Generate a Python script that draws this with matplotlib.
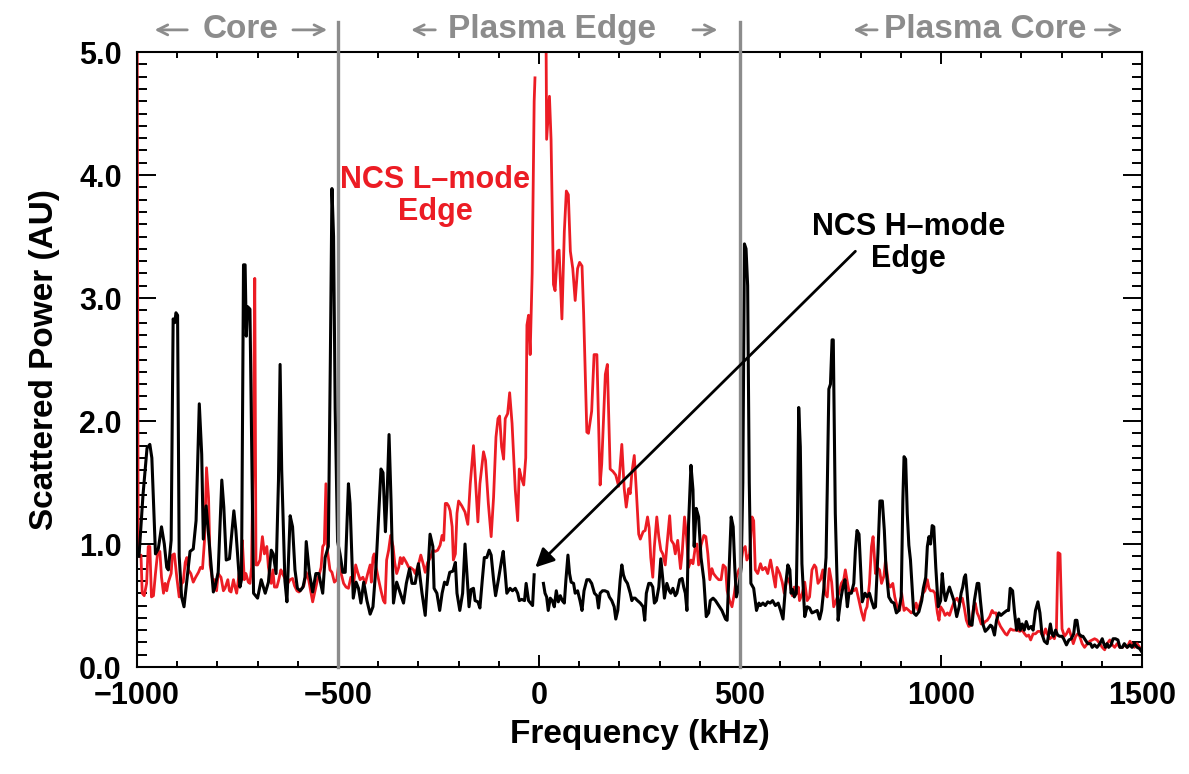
import numpy as np
import matplotlib
matplotlib.use("Agg")
import matplotlib.pyplot as plt
from matplotlib.ticker import MultipleLocator, FormatStrFormatter

plt.rcParams['font.family'] = ['Liberation Sans', 'DejaVu Sans']
plt.rcParams['font.weight'] = 'bold'
plt.rcParams['axes.labelweight'] = 'bold'
plt.rcParams['axes.unicode_minus'] = True

nan = np.nan

# NCS H-mode edge spectrum: (frequency kHz, scattered power AU); nan = DC gap
hmode_pts = [
    (-995, 0.90), (-985, 1.40), (-975, 1.78), (-968, 1.81), (-963, 1.70), (-954, 0.92), (-947, 0.96), (-939, 1.14), (-932, 1.00), (-926, 0.81),
    (-922, 0.79), (-915, 1.03), (-910, 2.83), (-906, 2.80), (-903, 2.88), (-899, 2.86), (-895, 0.90), (-889, 0.57), (-883, 0.49), (-868, 0.94),
    (-860, 0.96), (-853, 1.19), (-845, 2.14), (-839, 1.73), (-835, 1.04), (-828, 1.31), (-810, 0.61), (-806, 0.65), (-798, 0.77), (-789, 1.52),
    (-784, 1.30), (-778, 0.87), (-770, 0.88), (-759, 1.27), (-754, 1.11), (-744, 0.65), (-740, 0.71), (-735, 3.27), (-731, 3.27), (-728, 2.69),
    (-725, 2.93), (-719, 2.91), (-710, 0.60), (-700, 0.56), (-691, 0.71), (-681, 0.60), (-673, 0.69), (-666, 0.95), (-661, 0.92), (-654, 0.76),
    (-648, 1.52), (-644, 2.46), (-640, 1.60), (-632, 0.70), (-627, 0.53), (-619, 1.23), (-613, 1.14), (-607, 0.79), (-601, 0.64), (-594, 0.62),
    (-587, 0.65), (-582, 0.73), (-579, 1.02), (-571, 0.76), (-563, 0.61), (-555, 0.76), (-548, 0.76), (-538, 0.60), (-532, 0.89), (-524, 0.98),
    (-519, 2.50), (-515, 3.89), (-511, 3.50), (-507, 2.10), (-501, 1.02), (-495, 0.92), (-488, 0.77), (-482, 0.77), (-474, 1.49), (-470, 1.33),
    (-462, 0.56), (-455, 0.69), (-449, 0.64), (-443, 0.52), (-436, 0.69), (-428, 0.54), (-420, 0.43), (-413, 0.49), (-405, 0.84), (-399, 1.22),
    (-393, 1.61), (-388, 1.58), (-382, 1.10), (-378, 1.38), (-373, 1.89), (-368, 1.35), (-362, 0.52), (-354, 0.69), (-345, 0.60), (-337, 0.52),
    (-330, 0.68), (-322, 0.80), (-316, 0.68), (-308, 0.68), (-300, 0.84), (-291, 0.60), (-283, 0.42), (-277, 0.73), (-271, 1.08), (-264, 0.98),
    (-261, 0.64), (-254, 0.60), (-247, 0.46), (-241, 0.60), (-235, 0.69), (-229, 0.67), (-222, 0.77), (-214, 0.78), (-208, 0.85), (-204, 0.60),
    (-197, 0.46), (-190, 0.60), (-184, 1.00), (-177, 0.65), (-174, 0.49), (-169, 0.63), (-163, 0.64), (-159, 0.54), (-152, 0.53), (-147, 0.48),
    (-141, 0.71), (-136, 0.89), (-130, 0.89), (-124, 0.95), (-119, 0.91), (-113, 0.71), (-108, 0.58), (-101, 0.71), (-93, 0.87), (-89, 0.94),
    (-84, 0.76), (-80, 0.60), (-72, 0.64), (-66, 0.62), (-59, 0.64), (-53, 0.60), (-49, 0.54), (-43, 0.55), (-36, 0.54), (-32, 0.68),
    (-26, 0.54), (-21, 0.52), (-16, 0.50), (-12, 0.75), (0, nan), (11, 0.68), (15, 0.60), (19, 0.57), (23, 0.46), (28, 0.56),
    (33, 0.54), (38, 0.49), (43, 0.62), (48, 0.53), (53, 0.58), (58, 0.54), (63, 0.52), (67, 0.71), (72, 0.91), (76, 0.76),
    (80, 0.69), (86, 0.68), (90, 0.60), (96, 0.62), (102, 0.54), (107, 0.46), (112, 0.62), (119, 0.71), (125, 0.71), (131, 0.68),
    (138, 0.60), (144, 0.58), (148, 0.48), (152, 0.60), (158, 0.62), (164, 0.62), (171, 0.61), (175, 0.57), (181, 0.54), (187, 0.49),
    (191, 0.39), (196, 0.46), (202, 0.71), (206, 0.83), (210, 0.75), (214, 0.71), (220, 0.68), (227, 0.60), (231, 0.54), (234, 0.56),
    (239, 0.56), (245, 0.54), (252, 0.52), (259, 0.49), (263, 0.38), (267, 0.60), (273, 0.68), (278, 0.68), (283, 0.65), (287, 0.52),
    (292, 0.54), (298, 0.65), (303, 0.88), (308, 0.71), (312, 0.56), (318, 0.68), (324, 0.62), (328, 0.60), (333, 0.64), (339, 0.58),
    (343, 0.60), (350, 0.71), (356, 0.72), (360, 0.65), (364, 0.60), (368, 0.46), (372, 1.16), (378, 1.64), (383, 1.44), (386, 0.98),
    (391, 1.29), (397, 1.22), (403, 0.89), (410, 0.71), (416, 0.41), (422, 0.44), (426, 0.54), (433, 0.56), (439, 0.54), (447, 0.50),
    (455, 0.46), (464, 0.39), (468, 0.38), (472, 0.71), (478, 1.22), (483, 1.14), (487, 0.81), (491, 0.57), (497, 0.65), (503, 0.81),
    (507, 1.50), (511, 3.44), (515, 3.40), (519, 3.10), (523, 1.50), (527, 0.68), (534, 0.64), (541, 0.46), (547, 0.52), (551, 0.50),
    (557, 0.52), (563, 0.50), (569, 0.53), (575, 0.52), (581, 0.54), (588, 0.50), (595, 0.52), (601, 0.46), (607, 0.39), (613, 0.65),
    (619, 0.83), (624, 0.79), (627, 0.60), (631, 0.63), (635, 0.57), (640, 0.60), (643, 1.20), (646, 2.11), (650, 1.79), (654, 0.84),
    (661, 0.41), (667, 0.49), (673, 0.48), (679, 0.44), (686, 0.45), (692, 0.46), (698, 0.39), (703, 0.46), (708, 0.62), (714, 0.89),
    (717, 1.44), (721, 2.26), (725, 2.30), (729, 2.66), (732, 2.66), (737, 1.25), (744, 0.38), (750, 0.54), (756, 0.65), (761, 0.71),
    (767, 0.49), (771, 0.60), (777, 0.60), (783, 0.68), (787, 0.95), (791, 1.11), (796, 1.08), (800, 0.81), (804, 0.53), (811, 0.60),
    (816, 0.57), (822, 0.60), (827, 0.54), (833, 0.48), (837, 0.49), (843, 0.92), (848, 1.35), (854, 1.35), (859, 1.11), (863, 0.81),
    (870, 0.57), (877, 0.53), (883, 0.52), (889, 0.44), (895, 0.46), (901, 0.57), (905, 1.35), (908, 1.71), (912, 1.69), (916, 1.25),
    (920, 0.99), (924, 0.87), (928, 0.65), (932, 0.44), (938, 0.42), (945, 0.45), (952, 0.54), (956, 0.64), (962, 0.73), (966, 0.98),
    (970, 1.06), (974, 1.00), (978, 1.15), (982, 1.14), (987, 0.81), (993, 0.49), (999, 0.54), (1003, 0.76), (1007, 0.62), (1011, 0.54),
    (1016, 0.60), (1021, 0.65), (1026, 0.60), (1032, 0.54), (1039, 0.41), (1045, 0.49), (1050, 0.60), (1054, 0.65), (1058, 0.73), (1061, 0.75),
    (1065, 0.60), (1071, 0.35), (1077, 0.34), (1083, 0.54), (1090, 0.68), (1094, 0.68), (1098, 0.54), (1104, 0.35), (1110, 0.29), (1116, 0.31),
    (1123, 0.34), (1127, 0.33), (1133, 0.26), (1138, 0.38), (1144, 0.44), (1149, 0.42), (1156, 0.44), (1164, 0.46), (1168, 0.46), (1172, 0.64),
    (1178, 0.62), (1183, 0.44), (1188, 0.30), (1193, 0.39), (1197, 0.30), (1202, 0.35), (1207, 0.30), (1212, 0.37), (1218, 0.31), (1224, 0.33),
    (1229, 0.30), (1235, 0.46), (1241, 0.53), (1246, 0.44), (1251, 0.27), (1257, 0.21), (1264, 0.19), (1268, 0.27), (1272, 0.35), (1276, 0.27),
    (1280, 0.25), (1285, 0.30), (1290, 0.26), (1295, 0.25), (1301, 0.25), (1305, 0.23), (1312, 0.18), (1318, 0.22), (1324, 0.23), (1330, 0.27),
    (1334, 0.38), (1338, 0.38), (1343, 0.27), (1349, 0.25), (1353, 0.25), (1359, 0.22), (1365, 0.19), (1372, 0.19), (1376, 0.16), (1382, 0.18),
    (1388, 0.16), (1395, 0.19), (1401, 0.23), (1405, 0.19), (1409, 0.16), (1413, 0.19), (1417, 0.16), (1423, 0.18), (1428, 0.23), (1434, 0.23),
    (1440, 0.22), (1445, 0.16), (1451, 0.16), (1456, 0.19), (1463, 0.16), (1470, 0.18), (1475, 0.16), (1481, 0.19), (1488, 0.16), (1494, 0.15),
    (1498, 0.13),
]

# NCS L-mode edge spectrum
lmode_pts = [
    (-1000, 6.00), (-997, 0.90), (-990, 0.91), (-987, 0.60), (-982, 0.58), (-976, 0.68), (-972, 0.98), (-968, 0.98), (-964, 0.57), (-959, 0.58),
    (-954, 0.76), (-949, 0.92), (-943, 0.94), (-939, 0.73), (-934, 0.60), (-930, 0.68), (-926, 0.62), (-922, 0.69), (-915, 0.76), (-912, 0.91),
    (-907, 0.92), (-901, 0.73), (-895, 0.57), (-889, 0.68), (-885, 0.69), (-880, 0.85), (-876, 0.89), (-872, 0.79), (-866, 0.76), (-860, 0.69),
    (-854, 0.73), (-847, 0.77), (-842, 0.81), (-837, 0.80), (-832, 1.03), (-827, 1.62), (-822, 1.38), (-818, 0.83), (-812, 0.71), (-806, 0.71),
    (-802, 0.62), (-798, 0.76), (-791, 0.73), (-785, 0.62), (-781, 0.64), (-774, 0.71), (-770, 0.62), (-766, 0.61), (-760, 0.71), (-756, 0.65),
    (-752, 0.60), (-746, 0.76), (-741, 0.81), (-738, 1.03), (-733, 0.71), (-729, 0.76), (-723, 0.69), (-719, 0.68), (-715, 0.81), (-710, 2.00),
    (-707, 3.16), (-704, 0.83), (-700, 0.83), (-694, 0.87), (-688, 1.06), (-683, 0.92), (-677, 0.98), (-673, 0.81), (-666, 0.68), (-662, 0.79),
    (-658, 0.65), (-652, 0.65), (-648, 0.70), (-642, 0.79), (-638, 0.76), (-632, 0.72), (-625, 0.68), (-619, 0.71), (-613, 0.72), (-608, 0.66),
    (-602, 0.62), (-597, 0.61), (-590, 0.64), (-585, 0.66), (-579, 0.77), (-573, 0.71), (-567, 0.60), (-563, 0.53), (-557, 0.62), (-551, 0.71),
    (-546, 0.76), (-542, 0.81), (-538, 0.98), (-534, 1.00), (-530, 1.49), (-526, 0.94), (-520, 0.79), (-515, 0.77), (-509, 0.69), (-503, 0.71),
    (-497, 0.87), (-493, 0.77), (-486, 0.68), (-480, 0.65), (-474, 0.64), (-468, 0.73), (-461, 0.68), (-456, 0.83), (-451, 0.77), (-445, 0.71),
    (-438, 0.73), (-432, 0.68), (-426, 0.76), (-420, 0.83), (-417, 0.69), (-413, 0.89), (-410, 0.92), (-405, 0.81), (-399, 0.71), (-393, 0.62),
    (-387, 0.54), (-383, 0.52), (-379, 0.87), (-374, 0.95), (-369, 1.07), (-363, 0.98), (-359, 0.85), (-354, 0.76), (-349, 0.81), (-345, 0.89),
    (-341, 0.84), (-337, 0.89), (-330, 0.85), (-324, 0.81), (-320, 0.81), (-312, 0.79), (-308, 0.76), (-300, 0.83), (-294, 0.91), (-289, 0.85),
    (-283, 0.77), (-277, 0.85), (-270, 0.89), (-264, 0.95), (-258, 0.94), (-252, 0.95), (-246, 0.99), (-241, 1.07), (-237, 1.03), (-233, 1.33),
    (-229, 1.33), (-225, 1.31), (-221, 1.27), (-216, 1.14), (-213, 0.87), (-208, 0.92), (-204, 1.25), (-200, 1.35), (-192, 1.31), (-184, 1.26),
    (-177, 1.16), (-171, 1.49), (-163, 1.80), (-159, 1.57), (-152, 1.18), (-147, 1.49), (-138, 1.75), (-133, 1.68), (-126, 1.33), (-119, 1.06),
    (-113, 1.38), (-107, 1.87), (-102, 2.02), (-98, 2.04), (-93, 1.79), (-88, 1.69), (-84, 2.02), (-78, 2.06), (-73, 2.23), (-67, 1.98),
    (-59, 1.44), (-53, 1.19), (-49, 1.61), (-44, 1.54), (-38, 1.48), (-33, 1.70), (-30, 2.78), (-26, 2.86), (-22, 2.54), (-17, 3.20),
    (-12, 4.60), (-10, 4.79), (0, nan), (16, 6.00), (19, 4.29), (26, 4.64), (30, 4.29), (36, 3.11), (40, 3.06), (46, 3.38),
    (50, 3.39), (57, 2.83), (63, 3.54), (68, 3.87), (73, 3.84), (78, 3.38), (84, 3.24), (90, 2.98), (96, 3.24), (101, 3.29),
    (107, 3.26), (111, 2.88), (119, 1.91), (123, 1.90), (131, 2.08), (137, 2.54), (144, 2.54), (152, 1.48), (156, 1.65), (165, 2.38),
    (170, 2.46), (177, 1.61), (184, 1.59), (191, 1.56), (198, 1.47), (206, 1.81), (212, 1.45), (217, 1.30), (223, 1.45), (227, 1.41),
    (231, 1.58), (237, 1.72), (242, 1.44), (248, 1.08), (252, 1.04), (259, 1.10), (264, 1.11), (270, 1.22), (274, 1.13), (278, 0.89),
    (283, 0.73), (287, 0.98), (293, 1.22), (298, 1.06), (303, 0.95), (308, 0.92), (314, 0.83), (318, 0.98), (325, 1.23), (329, 1.03),
    (335, 1.00), (339, 0.92), (345, 1.03), (352, 0.80), (356, 0.92), (362, 1.22), (367, 1.06), (372, 0.81), (378, 0.87), (383, 0.84),
    (389, 0.98), (393, 1.00), (397, 0.83), (403, 0.99), (410, 1.07), (415, 1.06), (420, 0.92), (425, 0.71), (430, 0.80), (434, 0.76),
    (441, 0.73), (447, 0.71), (453, 0.71), (458, 0.83), (464, 0.81), (468, 0.62), (474, 0.54), (480, 0.49), (486, 0.60), (491, 0.73),
    (497, 0.79), (501, 0.81), (507, 0.95), (513, 0.98), (517, 0.87), (524, 0.92), (530, 1.22), (534, 1.19), (538, 0.79), (544, 0.76),
    (551, 0.84), (556, 0.79), (563, 0.81), (569, 0.76), (576, 0.87), (582, 0.76), (588, 0.65), (592, 0.81), (599, 0.76), (605, 0.69),
    (610, 0.60), (617, 0.73), (624, 0.68), (630, 0.58), (635, 0.65), (642, 0.60), (645, 0.65), (648, 0.54), (655, 0.60), (661, 0.69),
    (667, 0.54), (673, 0.57), (679, 0.79), (685, 0.83), (689, 0.81), (694, 0.68), (700, 0.71), (706, 0.79), (711, 0.60), (717, 0.57),
    (722, 0.80), (728, 0.69), (733, 0.49), (739, 0.54), (746, 0.60), (752, 0.68), (758, 0.71), (762, 0.79), (766, 0.71), (772, 0.60),
    (777, 0.62), (783, 0.62), (789, 0.64), (796, 0.54), (802, 0.45), (808, 0.38), (812, 0.46), (816, 0.49), (822, 0.68), (827, 0.98),
    (831, 1.06), (837, 0.76), (841, 0.81), (847, 0.79), (852, 0.68), (858, 0.74), (862, 0.87), (869, 0.68), (874, 0.65), (880, 0.68),
    (885, 0.57), (891, 0.49), (897, 0.46), (902, 0.60), (908, 0.46), (913, 0.48), (920, 0.46), (926, 0.44), (932, 0.46), (938, 0.52),
    (943, 0.46), (949, 0.53), (955, 0.60), (960, 0.62), (966, 0.71), (970, 0.64), (974, 0.62), (980, 0.62), (985, 0.60), (991, 0.44),
    (995, 0.38), (999, 0.49), (1005, 0.46), (1010, 0.42), (1016, 0.44), (1021, 0.42), (1028, 0.49), (1034, 0.54), (1040, 0.56), (1046, 0.52),
    (1053, 0.56), (1058, 0.48), (1063, 0.38), (1069, 0.33), (1075, 0.34), (1081, 0.49), (1085, 0.52), (1090, 0.44), (1094, 0.41), (1100, 0.35),
    (1105, 0.35), (1110, 0.37), (1115, 0.38), (1121, 0.41), (1127, 0.46), (1131, 0.44), (1137, 0.44), (1141, 0.38), (1148, 0.33), (1154, 0.30),
    (1160, 0.27), (1164, 0.26), (1169, 0.29), (1173, 0.31), (1179, 0.30), (1185, 0.30), (1189, 0.30), (1196, 0.29), (1202, 0.30), (1208, 0.27),
    (1213, 0.25), (1218, 0.26), (1223, 0.22), (1229, 0.27), (1235, 0.27), (1241, 0.29), (1247, 0.29), (1254, 0.25), (1260, 0.31), (1264, 0.27),
    (1271, 0.23), (1277, 0.25), (1282, 0.23), (1287, 0.30), (1291, 0.93), (1296, 0.92), (1301, 0.31), (1307, 0.25), (1312, 0.27), (1318, 0.31),
    (1324, 0.25), (1329, 0.19), (1335, 0.25), (1340, 0.27), (1345, 0.25), (1351, 0.19), (1357, 0.16), (1364, 0.19), (1370, 0.21), (1376, 0.22),
    (1382, 0.23), (1388, 0.22), (1395, 0.19), (1401, 0.16), (1407, 0.14), (1413, 0.19), (1420, 0.22), (1426, 0.18), (1432, 0.16), (1438, 0.19),
    (1445, 0.16), (1451, 0.16), (1456, 0.18), (1463, 0.16), (1470, 0.21), (1476, 0.18), (1481, 0.16), (1488, 0.19), (1494, 0.16),
]

# region boundaries (kHz) and the region names above the frame
region_bounds = [-500, 500]
region_names = ['Core', 'Plasma Edge', 'Plasma Core']
region_centers = [-742, 33, 1111]
region_arrows = [(-963, -868, -619, -520), (-325, -251, 376, 451), (775, 848, 1377, 1459)]

RED = '#ec1c24'
GRAY = '#8c8c8c'

hmode_freq, hmode_power = np.array(hmode_pts, dtype=float).T
lmode_freq, lmode_power = np.array(lmode_pts, dtype=float).T

fig = plt.figure(figsize=(11.89, 7.74), dpi=100)
ax = fig.add_axes([0.1152, 0.1382, 0.8453, 0.7946])

ax.plot(lmode_freq, lmode_power, color=RED, lw=2.0, zorder=2)
ax.plot(hmode_freq, hmode_power, color='black', lw=2.2, zorder=3)

ax.set_xlim(-1000, 1500)
ax.set_ylim(0, 5)

# boundaries poke out above the frame
for xb in region_bounds:
    ax.plot([xb, xb], [0, 5.24], color=GRAY, lw=2.4, clip_on=False, zorder=4)

trans = ax.get_xaxis_transform()
ytop = 1.036
for name, xc, (la0, la1, ra0, ra1) in zip(region_names, region_centers, region_arrows):
    ax.text(xc, ytop, name, transform=trans, ha='center', va='center',
            fontsize=24, color=GRAY)
    ax.annotate('', xy=(la0, ytop), xytext=(la1, ytop), xycoords=trans, textcoords=trans,
                arrowprops=dict(arrowstyle='->', color=GRAY, lw=2, mutation_scale=18),
                annotation_clip=False)
    ax.annotate('', xy=(ra1, ytop), xytext=(ra0, ytop), xycoords=trans, textcoords=trans,
                arrowprops=dict(arrowstyle='->', color=GRAY, lw=2, mutation_scale=18),
                annotation_clip=False)

ax.text(-258, 4.08, 'NCS L\u2013mode\nEdge', color=RED, fontsize=22,
        ha='center', va='top', linespacing=1.1, zorder=5)
ax.text(919, 3.70, 'NCS H\u2013mode\nEdge', color='black', fontsize=22,
        ha='center', va='top', linespacing=1.1, zorder=5)
ax.annotate('', xy=(-9, 0.81), xytext=(787, 3.38),
            arrowprops=dict(arrowstyle='-|>', color='black', lw=2,
                            mutation_scale=28, shrinkA=0, shrinkB=0),
            zorder=6)

ax.xaxis.set_major_locator(MultipleLocator(500))
ax.xaxis.set_minor_locator(MultipleLocator(100))
ax.yaxis.set_major_locator(MultipleLocator(1.0))
ax.yaxis.set_minor_locator(MultipleLocator(0.1))
ax.yaxis.set_major_formatter(FormatStrFormatter('%.1f'))

ax.tick_params(which='both', direction='in', top=True, right=True, width=1.4)
ax.tick_params(axis='x', which='major', length=8.5, pad=10, labelsize=22)
ax.tick_params(axis='x', which='minor', length=4.5)
ax.tick_params(axis='y', which='major', length=14, pad=11, labelsize=22)
ax.tick_params(axis='y', which='minor', length=7)
for sp in ax.spines.values():
    sp.set_linewidth(1.5)

ax.set_xlabel('Frequency (kHz)', fontsize=24, labelpad=6)
ax.set_ylabel('Scattered Power (AU)', fontsize=24, labelpad=14)

fig.savefig('out.png', dpi=100)
